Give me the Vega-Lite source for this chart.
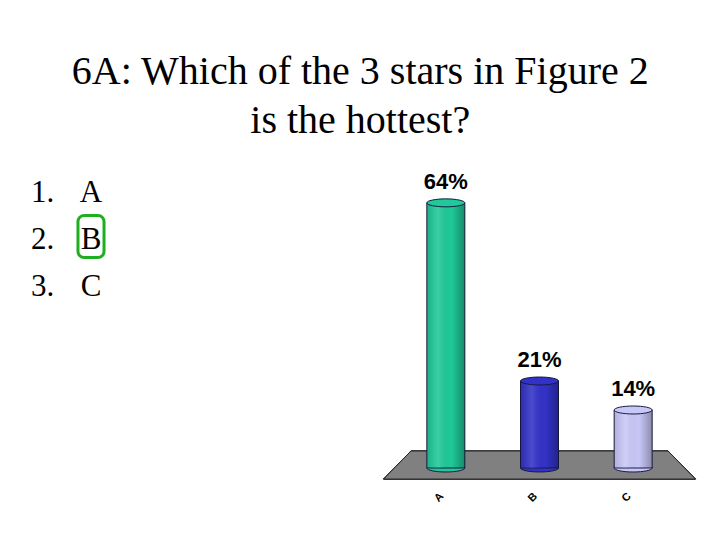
{
  "$schema": "https://vega.github.io/schema/vega-lite/v6.json",
  "description": "Clicker poll: which of the 3 stars in Figure 2 is the hottest?",
  "background": "white",
  "padding": {"left": 31, "top": 51, "right": 0, "bottom": 0},
  "title": {
    "text": ["6A: Which of the 3 stars in Figure 2", "is the hottest?"],
    "font": "Liberation Serif",
    "fontSize": 40,
    "fontWeight": "normal",
    "lineHeight": 49,
    "color": "black",
    "anchor": "middle",
    "dx": -4,
    "offset": 30
  },
  "datasets": {
    "answers": [
      {"item": 1, "num": "1.", "letter": "A", "correct": false},
      {"item": 2, "num": "2.", "letter": "B", "correct": true},
      {"item": 3, "num": "3.", "letter": "C", "correct": false}
    ],
    "votes": [
      {"option": "A", "share": 0.64},
      {"option": "B", "share": 0.21},
      {"option": "C", "share": 0.14}
    ]
  },
  "bounds": "flush",
  "spacing": 308,
  "hconcat": [
    {
      "width": 60,
      "height": 141,
      "data": {"name": "answers"},
      "encoding": {
        "y": {"field": "item", "type": "ordinal", "axis": null,
              "scale": {"type": "point", "padding": 0.5}}
      },
      "layer": [
        {
          "mark": {"type": "text", "align": "left", "baseline": "alphabetic",
                   "font": "Liberation Serif", "fontSize": 31, "color": "black"},
          "encoding": {
            "x": {"datum": "num", "type": "nominal", "axis": null,
                  "scale": {"type": "point", "domain": ["num", "letter"], "padding": 0}},
            "text": {"field": "num"}
          }
        },
        {
          "mark": {"type": "text", "align": "center", "baseline": "alphabetic",
                   "font": "Liberation Serif", "fontSize": 31, "color": "black"},
          "encoding": {
            "x": {"datum": "letter", "type": "nominal"},
            "text": {"field": "letter"}
          }
        },
        {
          "transform": [{"filter": "datum.correct"}],
          "mark": {"type": "point", "filled": false, "stroke": "#1fae1f", "strokeWidth": 3,
                   "opacity": 1, "size": 1764,
                   "shape": "M-0.33,-1.57 L0.33,-1.57 A0.29,0.29 0 0 1 0.62,-1.28 L0.62,0.14 A0.29,0.29 0 0 1 0.33,0.43 L-0.33,0.43 A0.29,0.29 0 0 1 -0.62,0.14 L-0.62,-1.28 A0.29,0.29 0 0 1 -0.33,-1.57 Z"},
          "encoding": {
            "x": {"datum": "letter", "type": "nominal"}
          }
        }
      ]
    },
    {
      "width": 281,
      "height": 290,
      "data": {"name": "votes"},
      "encoding": {
        "x": {"field": "option", "type": "nominal", "title": null,
              "scale": {"paddingInner": 0, "paddingOuter": 0},
              "axis": {"labelAngle": -45, "labelFont": "Liberation Sans", "labelFontWeight": "bold",
                       "labelFontSize": 11, "labelColor": "black", "ticks": false, "domain": false,
                       "labelPadding": 22, "labelOffset": -8}},
        "y": {"field": "share", "type": "quantitative", "axis": null,
              "scale": {"domain": [0, 0.7], "nice": false}},
        "color": {"field": "option", "type": "nominal", "legend": null,
                  "scale": {"domain": ["A", "B", "C"], "range": ["#1fc998", "#3232c8", "#c8c8f8"]}}
      },
      "layer": [
        {
          "mark": {"type": "point", "filled": true, "fill": "#808080", "opacity": 1,
                   "stroke": "#222222", "strokeWidth": 1, "size": 97344,
                   "shape": "M-0.824,-0.109 L0.824,-0.109 L1,0.071 L-1,0.071 Z"},
          "encoding": {
            "x": {"datum": "B", "type": "nominal"},
            "y": {"datum": 0, "type": "quantitative"},
            "color": {"value": "#808080"}
          }
        },
        {
          "mark": {"type": "point", "filled": true, "opacity": 1, "stroke": "#1a1a40", "strokeWidth": 1,
                   "size": 1444, "shape": "M-1,0 A1,0.21 0 1,1 1,0 A1,0.21 0 1,1 -1,0 Z"},
          "encoding": {"y": {"datum": 0, "type": "quantitative"}}
        },
        {
          "mark": {"type": "bar", "size": 38, "stroke": "#1a1a40", "strokeWidth": 1, "opacity": 1}
        },
        {
          "mark": {"type": "bar", "size": 38,
                   "fill": {"gradient": "linear", "x1": 0, "x2": 1, "y1": 0, "y2": 0,
                            "stops": [
                              {"offset": 0, "color": "rgba(0,0,0,0.12)"},
                              {"offset": 0.3, "color": "rgba(255,255,255,0.12)"},
                              {"offset": 0.65, "color": "rgba(0,0,0,0)"},
                              {"offset": 1, "color": "rgba(0,0,0,0.3)"}
                            ]}},
          "encoding": {"color": {"value": null}}
        },
        {
          "mark": {"type": "point", "filled": true, "opacity": 1, "stroke": "#1a1a40", "strokeWidth": 1,
                   "size": 1444, "shape": "M-1,0 A1,0.21 0 1,1 1,0 A1,0.21 0 1,1 -1,0 Z"}
        },
        {
          "mark": {"type": "text", "dy": -21, "baseline": "middle", "font": "Liberation Sans",
                   "fontWeight": "bold", "fontSize": 22, "color": "black"},
          "encoding": {
            "text": {"field": "share", "type": "quantitative", "format": ".0%"},
            "color": {"value": "black"}
          }
        }
      ]
    }
  ],
  "config": {
    "view": {"stroke": null},
    "axis": {"grid": false}
  }
}
